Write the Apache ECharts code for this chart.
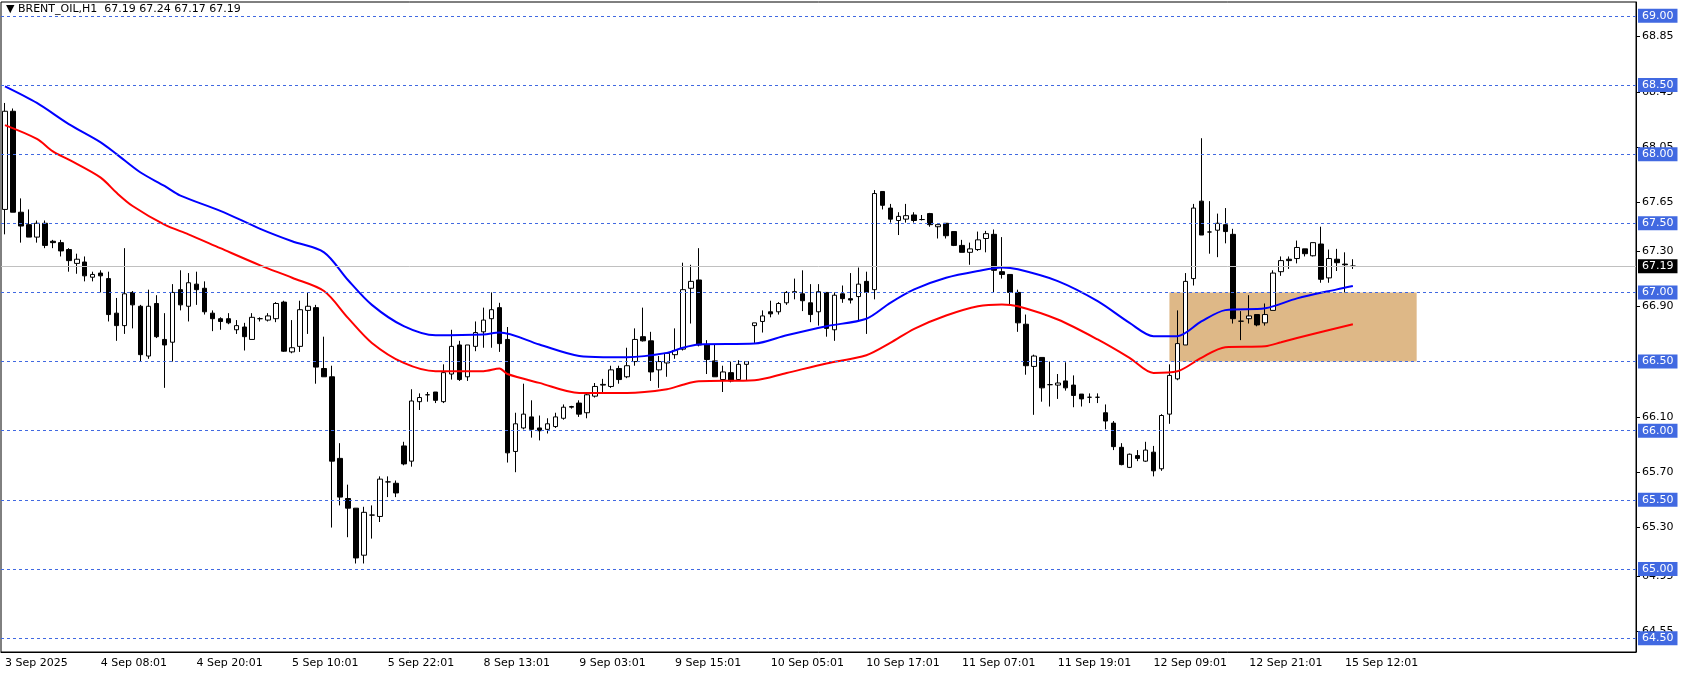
<!DOCTYPE html>
<html>
<head>
<meta charset="utf-8">
<script src="https://cdn.jsdelivr.net/npm/echarts@6/dist/echarts.min.js"></script>
<style>
  html, body { margin: 0; padding: 0; background: #fff; }
  #chart { width: 1686px; height: 676px; }
</style>
</head>
<body>
<div id="chart"></div>
<script>
// H1 candles: [open, close, low, high]
const ohlc = [
  [67.60,68.31,67.42,68.37],[68.31,67.58,67.58,68.33],[67.58,67.48,67.36,67.68],[67.49,67.40,67.40,67.60],
  [67.40,67.50,67.36,67.52],[67.50,67.34,67.32,67.52],[67.37,67.36,67.32,67.38],[67.36,67.30,67.26,67.38],
  [67.31,67.23,67.15,67.32],[67.21,67.24,67.135,67.28],[67.22,67.12,67.08,67.26],[67.11,67.13,67.08,67.15],
  [67.14,67.12,67.00,67.16],[67.10,66.84,66.79,67.15],[66.85,66.76,66.65,66.96],[66.76,66.99,66.70,67.32],
  [67.00,66.91,66.74,67.01],[66.90,66.55,66.50,66.91],[66.54,66.90,66.52,67.02],[66.92,66.68,66.67,66.98],
  [66.66,66.62,66.31,66.85],[66.64,67.00,66.50,67.06],[67.02,66.91,66.87,67.16],[66.90,67.07,66.79,67.14],
  [67.06,67.02,66.91,67.15],[67.03,66.86,66.84,67.08],[66.85,66.81,66.72,66.87],[66.81,66.79,66.73,66.82],
  [66.81,66.78,66.77,66.85],[66.73,66.76,66.70,66.80],[66.75,66.68,66.58,66.78],[66.66,66.82,66.66,66.85],
  [66.81,66.81,66.79,66.82],[66.80,66.83,66.79,66.85],[66.81,66.92,66.785,66.93],[66.93,66.575,66.57,66.94],
  [66.57,66.60,66.56,66.80],[66.61,66.875,66.57,66.94],[66.87,66.90,66.70,67.00],[66.89,66.46,66.34,66.91],
  [66.45,66.39,66.39,66.68],[66.39,65.78,65.30,66.47],[65.80,65.52,65.46,65.91],[65.51,65.44,65.23,65.61],
  [65.44,65.08,65.04,65.44],[65.10,65.41,65.04,65.45],[65.39,65.39,65.22,65.46],[65.38,65.65,65.34,65.67],
  [65.63,65.63,65.52,65.67],[65.62,65.55,65.52,65.64],[65.89,65.76,65.75,65.92],[65.78,66.215,65.74,66.30],
  [66.21,66.24,66.15,66.27],[66.26,66.26,66.21,66.28],[66.28,66.22,66.20,66.28],[66.21,66.42,66.20,66.48],
  [66.41,66.61,66.37,66.73],[66.62,66.37,66.36,66.65],[66.39,66.62,66.36,66.62],[66.61,66.71,66.575,66.79],
  [66.715,66.80,66.60,66.89],[66.81,66.875,66.60,67.00],[66.89,66.63,66.57,66.925],[66.66,65.84,65.77,66.75],
  [65.85,66.05,65.70,66.13],[66.02,66.12,66.01,66.34],[66.10,66.01,65.95,66.22],[66.02,66.00,65.93,66.11],
  [66.01,66.05,65.98,66.09],[66.03,66.10,66.02,66.13],[66.09,66.17,66.08,66.19],[66.17,66.175,66.16,66.18],
  [66.20,66.12,66.10,66.22],[66.13,66.26,66.09,66.28],[66.25,66.32,66.24,66.345],[66.33,66.335,66.28,66.375],
  [66.32,66.44,66.31,66.47],[66.45,66.37,66.34,66.47],[66.39,66.47,66.38,66.60],[66.50,66.66,66.47,66.74],
  [66.68,66.65,66.645,66.89],[66.65,66.425,66.36,66.715],[66.44,66.50,66.31,66.54],[66.49,66.56,66.39,66.56],
  [66.55,66.58,66.52,66.74],[66.59,67.02,66.58,67.215],[67.03,67.08,66.775,67.20],[67.09,66.62,66.61,67.32],
  [66.62,66.515,66.41,66.655],[66.505,66.39,66.39,66.62],[66.37,66.425,66.28,66.47],[66.42,66.36,66.35,66.50],
  [66.37,66.48,66.36,66.51],[66.48,66.50,66.36,66.50],[66.76,66.78,66.635,66.78],[66.79,66.83,66.71,66.87],
  [66.86,66.845,66.82,66.94],[66.86,66.92,66.84,66.93],[66.925,67.00,66.91,67.01],[67.005,67.00,66.95,67.10],
  [66.99,66.94,66.865,67.16],[66.925,66.84,66.785,67.06],[66.86,67.005,66.76,67.06],[67.00,66.74,66.68,67.00],
  [66.73,66.98,66.65,67.00],[66.99,66.955,66.925,67.05],[66.955,66.945,66.92,67.14],[66.97,67.06,66.80,67.18],
  [67.08,67.00,66.70,67.15],[67.02,67.715,66.95,67.74],[67.73,67.63,67.60,67.73],[67.61,67.53,67.505,67.64],
  [67.52,67.55,67.415,67.58],[67.53,67.555,67.505,67.64],[67.56,67.52,67.505,67.58],[67.527,67.527,67.52,67.56],
  [67.57,67.49,67.475,67.575],[67.475,67.49,67.39,67.49],[67.50,67.41,67.39,67.50],[67.44,67.34,67.335,67.44],
  [67.34,67.29,67.29,67.38],[67.29,67.315,67.20,67.36],[67.31,67.38,67.30,67.44],[67.39,67.425,67.29,67.445],
  [67.42,67.16,67.00,67.455],[67.15,67.13,67.10,67.40],[67.13,67.00,66.91,67.13],[67.00,66.78,66.715,67.02],
  [66.77,66.47,66.405,66.84],[66.465,66.54,66.115,66.55],[66.53,66.31,66.21,66.53],[66.333,66.333,66.175,66.50],
  [66.33,66.345,66.23,66.41],[66.36,66.31,66.29,66.495],[66.33,66.255,66.17,66.40],[66.265,66.23,66.175,66.265],
  [66.242,66.242,66.20,66.27],[66.242,66.242,66.20,66.27],[66.13,66.07,66.01,66.19],[66.055,65.885,65.86,66.07],
  [65.88,65.755,65.75,65.91],[65.735,65.83,65.73,65.835],[65.82,65.80,65.78,65.86],[65.78,65.86,65.775,65.92],
  [65.845,65.71,65.67,65.89],[65.725,66.11,65.71,66.12],[66.12,66.40,66.05,66.48],[66.375,66.63,66.365,66.87],
  [66.62,67.08,66.62,67.14],[67.10,67.61,67.05,67.64],[67.66,67.415,67.415,68.115],[67.437,67.437,67.28,67.66],
  [67.45,67.50,67.255,67.57],[67.49,67.44,67.355,67.61],[67.42,66.81,66.775,67.46],[66.792,66.792,66.655,66.865],
  [66.81,66.83,66.775,66.98],[66.84,66.765,66.755,66.84],[66.78,66.84,66.76,66.92],[66.87,67.14,66.87,67.16],
  [67.15,67.23,67.12,67.26],[67.24,67.23,67.17,67.26],[67.245,67.325,67.21,67.375],[67.315,67.28,67.26,67.315],
  [67.265,67.36,67.26,67.36],[67.35,67.095,67.07,67.475],[67.105,67.245,67.07,67.31],[67.24,67.215,67.155,67.315],
  [67.205,67.20,67.00,67.29],[67.19,67.19,67.17,67.24]
];

// moving averages: [candle index, value]
const maBlue = [
  [0,68.49],[4,68.37],[8,68.217],[12,68.085],[14,68.0],[17,67.867],[20,67.77],[22,67.70],[27,67.59],[32,67.46],
  [36,67.37],[40,67.29],[43,67.09],[46,66.91],[50,66.756],[54,66.69],[60,66.696],[62,66.71],[67,66.623],
  [72,66.54],[75,66.532],[78,66.532],[83,66.563],[85,66.6],[87,66.623],[94,66.63],[98,66.69],[103,66.756],
  [108,66.81],[111,66.925],[114,67.022],[118,67.106],[122,67.155],[125,67.18],[127,67.167],[132,67.082],
  [137,66.937],[141,66.78],[144,66.684],[147,66.684],[150,66.79],[153,66.872],[158,66.885],[162,66.957],
  [167,67.022],[169,67.046]
];
const maRed = [
  [0,68.21],[4,68.11],[6,68.02],[8,67.96],[12,67.83],[14,67.72],[16,67.625],[20,67.49],[23,67.42],[27,67.32],
  [32,67.196],[36,67.106],[40,67.01],[43,66.816],[46,66.635],[50,66.49],[54,66.43],[60,66.43],[62,66.45],
  [63,66.41],[67,66.346],[72,66.273],[78,66.273],[83,66.30],[85,66.333],[87,66.357],[94,66.365],[98,66.418],
  [103,66.486],[108,66.546],[111,66.635],[114,66.737],[118,66.833],[122,66.90],[125,66.913],[127,66.90],
  [132,66.804],[137,66.66],[141,66.527],[144,66.418],[147,66.43],[150,66.527],[153,66.604],[158,66.611],
  [160,66.64],[164,66.70],[169,66.77]
];

const dateLabels = ['3 Sep 2025','4 Sep 08:01','4 Sep 20:01','5 Sep 10:01','5 Sep 22:01','8 Sep 13:01',
  '9 Sep 03:01','9 Sep 15:01','10 Sep 05:01','10 Sep 17:01','11 Sep 07:01','11 Sep 19:01',
  '12 Sep 09:01','12 Sep 21:01','15 Sep 12:01'];
const levels = [64.5,65.0,65.5,66.0,66.5,67.0,67.5,68.0,68.5,69.0];
const priceTicks = [64.55,64.95,65.30,65.70,66.10,66.90,67.30,67.65,68.05,68.45,68.85];
const lastPrice = 67.19;
const zone = { from: 146, to: 177, low: 66.5, high: 67.0 };

const slotCount = 205;
const categories = [];
for (let i = 0; i < slotCount; i++) {
  categories.push(i % 12 === 0 && i / 12 < dateLabels.length ? dateLabels[i / 12] : '');
}

const chart = echarts.init(document.getElementById('chart'));
const font = 'Tahoma, "DejaVu Sans", sans-serif';

chart.setOption({
  animation: false,
  backgroundColor: '#fff',
  textStyle: { fontFamily: font },
  graphic: [{
    type: 'text', left: 6, top: 4,
    style: { text: '▼ BRENT_OIL,H1  67.19 67.24 67.17 67.19', fontSize: 11, fill: '#000', fontFamily: font }
  }],
  grid: { left: 1, right: 50, top: 2, bottom: 24, show: true, borderColor: '#000', borderWidth: 1 },
  xAxis: {
    type: 'category',
    data: categories,
    boundaryGap: true,
    axisLine: { lineStyle: { color: '#000' } },
    axisTick: {
      alignWithLabel: true,
      interval: (i) => categories[i] !== '',
      lineStyle: { color: '#000' }
    },
    axisLabel: { interval: 0, align: 'left', color: '#000', fontSize: 11, margin: 6, fontFamily: font },
    splitLine: { show: false }
  },
  yAxis: {
    type: 'value',
    position: 'right',
    min: 64.40, max: 69.10,
    scale: true,
    axisLine: { show: true, lineStyle: { color: '#000' } },
    axisTick: { show: true, customValues: priceTicks, length: 4, lineStyle: { color: '#000' } },
    axisLabel: {
      customValues: priceTicks, color: '#000', fontSize: 11, margin: 6, fontFamily: font,
      formatter: (v) => v.toFixed(2)
    },
    splitLine: { show: false }
  },
  series: [
    {
      type: 'candlestick',
      data: ohlc,
      barWidth: 5,
      silent: true,
      itemStyle: { color: '#fff', color0: '#000', borderColor: '#000', borderColor0: '#000', borderWidth: 1 },
      markArea: {
        silent: true,
        itemStyle: { color: '#DEB887' },
        data: [[{ xAxis: zone.from, yAxis: zone.high }, { xAxis: zone.to, yAxis: zone.low }]]
      },
      markLine: {
        silent: true,
        symbol: 'none',
        animation: false,
        data: levels.map(v => ({
          yAxis: v,
          lineStyle: { color: '#4169E1', type: [3, 3], width: 1 },
          label: {
            show: true, position: 'end', distance: 2, formatter: v.toFixed(2),
            color: '#fff', backgroundColor: '#4169E1', padding: [2, 4, 1, 4],
            fontSize: 11, fontFamily: font
          }
        })).concat([{
          yAxis: lastPrice,
          lineStyle: { color: '#c0c0c0', type: 'solid', width: 1 },
          label: {
            show: true, position: 'end', distance: 2, formatter: lastPrice.toFixed(2),
            color: '#fff', backgroundColor: '#000', padding: [2, 4, 1, 4],
            fontSize: 11, fontFamily: font
          }
        }])
      },
      z: 3
    },
    {
      type: 'line', data: maBlue, smooth: 0.3, showSymbol: false, silent: true,
      lineStyle: { color: '#0000FF', width: 2 }, z: 4
    },
    {
      type: 'line', data: maRed, smooth: 0.3, showSymbol: false, silent: true,
      lineStyle: { color: '#FF0000', width: 2 }, z: 4
    }
  ]
});
</script>
</body>
</html>
